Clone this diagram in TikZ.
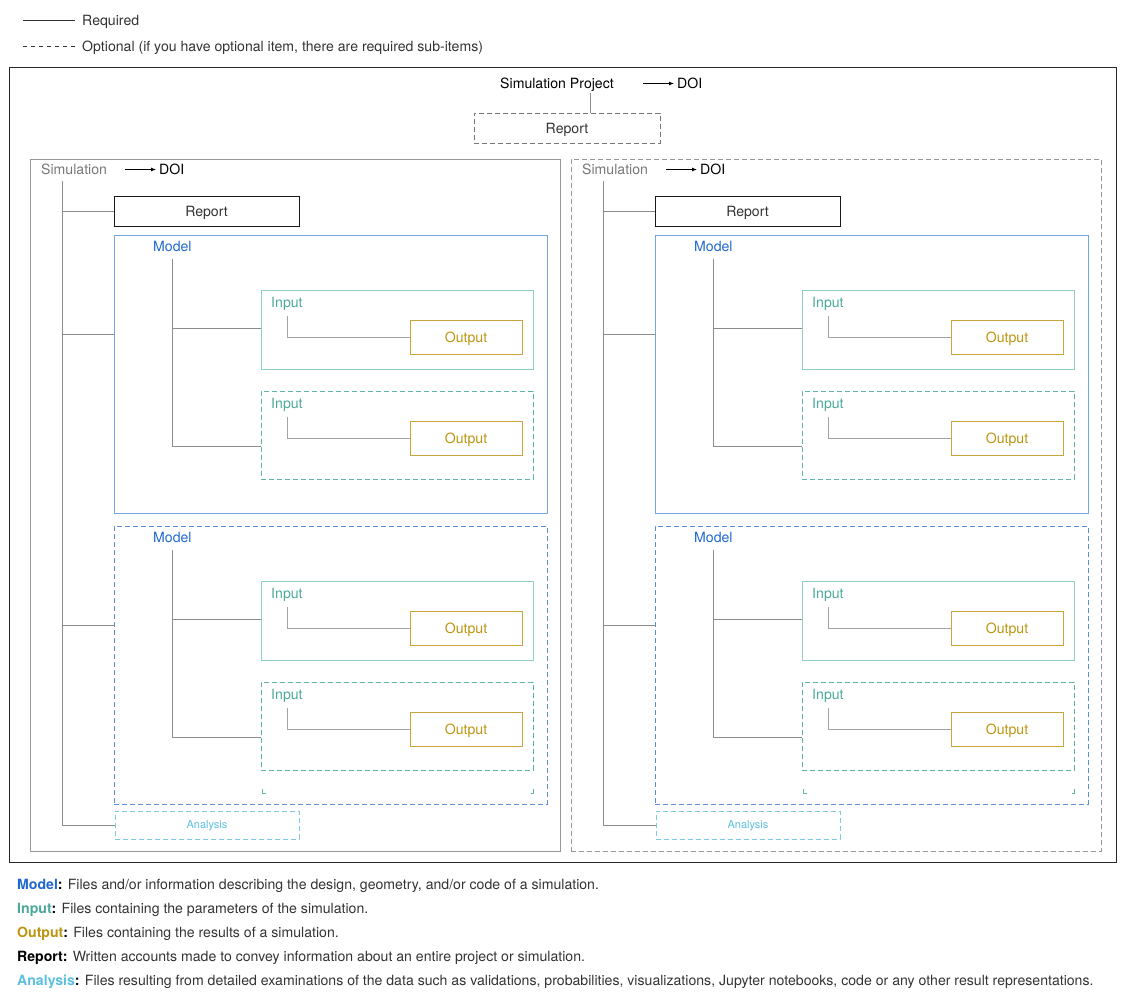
\documentclass[tikz,border=0pt]{standalone}
\usepackage{fontspec}
\setmainfont{TeX Gyre Heros}
\usetikzlibrary{arrows.meta, positioning}

\definecolor{modeltxt}{HTML}{1F68CF}
\definecolor{modelline}{HTML}{76A6E2}
\definecolor{modeldash}{HTML}{5C8ED8}
\definecolor{inputtxt}{HTML}{4BA99B}
\definecolor{inputline}{HTML}{8FD0C5}
\definecolor{inputdash}{HTML}{5DB6A7}
\definecolor{outputtxt}{HTML}{BB9510}
\definecolor{outputline}{HTML}{C9A53B}
\definecolor{analysistxt}{HTML}{5BBFE0}
\definecolor{analysisline}{HTML}{7CCBE3}
\definecolor{treegray}{HTML}{8C8C8C}
\definecolor{simgray}{HTML}{777777}
\definecolor{bodytxt}{HTML}{333333}

\newcommand{\legendterm}[2]{\textbf{\textcolor{#1}{#2}\textcolor{black}{:}}}

\begin{document}
\begin{tikzpicture}
	[x=1bp, y=-1bp,
	txt/.style={font=\fontsize{14.1bp}{16bp}\selectfont, inner sep=0pt, text=bodytxt},
	frame/.style={draw, anchor=north west, inner sep=0pt},
	boxtxt/.style={font=\fontsize{14.1bp}{16bp}\selectfont, text=bodytxt, text height=10bp, text depth=0pt},
	optional/.style={dash pattern=on 5bp off 3bp},
	tree/.style={draw=treegray, line width=0.9bp},
	doiarrow/.style={-{Latex[length=5bp,width=4bp]}, line width=0.9bp, shorten >=3bp}]
   \useasboundingbox (0,0) rectangle (1126,1005);
   % legend
   \draw[line width=0.9bp, bodytxt] (23,20.5) -- (75,20.5);
   \draw[line width=0.9bp, bodytxt, dash pattern=on 4bp off 4bp] (23,46.5) -- (75,46.5);
   \node[txt, anchor=base west] (req) at (82,25) {Required};
   \node[txt, anchor=base west] (opt) at (82,51) {Optional (if you have optional item, there are required sub-items)};
   % project
   \node[frame, line width=1.3bp, draw=black!85, minimum width=1107bp, minimum height=795bp] (project) at (9,67) {};
   \node[txt, text=black, anchor=base] (proj) at (557,88) {Simulation Project};
   \node[txt, text=black, anchor=base west] (doiP) at (677,88) {DOI};
   \coordinate (doitailP) at (643,83.5);
   \draw[doiarrow] (doitailP) -- (doitailP -| doiP.west);
   \node[frame, boxtxt, optional, draw=simgray, line width=1bp, minimum width=186bp, minimum height=30bp] (repP) at (473.5,112.5) {Report};
   \coordinate (stemP) at (590.5,93);
   \draw[tree] (stemP) -- (stemP |- repP.north);
   % simulations
   \foreach \s/\dx/\sline in {L/0/solid, R/541/optional}{
   \begin{scope}[xshift=\dx bp]
      \node[frame, \sline, draw=treegray!90, line width=1.1bp, minimum width=530bp, minimum height=692bp] (sim\s) at (29.5,158.5) {};
      \node[txt, text=simgray, anchor=base west] (simlbl\s) at (41,174) {Simulation};
      \node[txt, text=black, anchor=base west] (doi\s) at (159,174) {DOI};
      \coordinate (doitail\s) at (125,169.5);
      \draw[doiarrow] (doitail\s) -- (doitail\s -| doi\s.west);
      \node[frame, boxtxt, draw=black!90, line width=1.1bp, minimum width=185bp, minimum height=30bp] (rep\s) at (113.5,195.5) {Report};
      \node[frame, optional, draw=analysisline, line width=0.9bp, minimum width=184bp, minimum height=28bp,
            font=\fontsize{11bp}{13bp}\selectfont, text=analysistxt, text height=8bp, text depth=0pt] (ana\s) at (114.5,810.5) {Analysis};
      \coordinate (trunk\s) at (62.5,181);
      \draw[tree] (trunk\s) |- (ana\s.west);
      \draw[tree] (trunk\s |- rep\s.west) -- (rep\s.west);
      % models
      \foreach \m/\mtop/\mline/\mcol in {1/234.5/solid/modelline, 2/525.5/optional/modeldash}{
         \node[frame, \mline, draw=\mcol, line width=1.2bp, minimum width=433bp, minimum height=278bp] (model\s\m) at (113.5,\mtop) {};
         \node[txt, text=modeltxt, anchor=base west] (mlbl\s\m) at (153,\mtop+17) {Model};
         \coordinate (mjoin\s\m) at (113.5,\mtop+100);
         \draw[tree] (trunk\s |- mjoin\s\m) -- (mjoin\s\m);
         \coordinate (mtrunk\s\m) at (172.5,\mtop+24);
         % inputs
         \foreach \i/\itop/\iline/\icol/\ih/\ij in {a/55/solid/inputline/79/39, b/156/optional/inputdash/88/56}{
            \node[frame, \iline, draw=\icol, line width=1.1bp, minimum width=272bp, minimum height=\ih bp] (in\s\m\i) at (260.5,\mtop+\itop) {};
            \node[txt, text=inputtxt, anchor=base west] (ilbl\s\m\i) at (271,\mtop+\itop+18) {Input};
            \coordinate (ijoin\s\m\i) at (260.5,\mtop+\itop+\ij);
            \draw[tree] (mtrunk\s\m |- ijoin\s\m\i) -- (ijoin\s\m\i);
            \node[frame, boxtxt, text=outputtxt, draw=outputline, line width=1.1bp, minimum width=112bp, minimum height=34bp] (out\s\m\i) at (409.5,\mtop+\itop+30) {Output};
            \coordinate (itrunk\s\m\i) at (287.5,\mtop+\itop+26);
            \draw[tree, draw=treegray!80, line width=1.1bp] (itrunk\s\m\i) |- (out\s\m\i.west);
         }
         \draw[tree] (mtrunk\s\m) -- (mtrunk\s\m |- ijoin\s\m b);
      }
      \draw[inputdash, line width=0.8bp] (262.5,789) -- (262.5,793.5) -- (265.5,793.5) (533.5,789) -- (533.5,793.5) -- (530.5,793.5);
   \end{scope}
   }
   % descriptions
   \node[txt, anchor=base west] (dmodel) at (17,889) {\legendterm{modeltxt}{Model} Files and/or information describing the design, geometry, and/or code of a simulation.};
   \node[txt, anchor=base west] (dinput) at (17,913) {\legendterm{inputtxt}{Input} Files containing the parameters of the simulation.};
   \node[txt, anchor=base west] (doutput) at (17,937) {\legendterm{outputtxt}{Output} Files containing the results of a simulation.};
   \node[txt, anchor=base west] (dreport) at (17,961) {\legendterm{black}{Report} Written accounts made to convey information about an entire project or simulation.};
   \node[txt, anchor=base west] (danalysis) at (17,985) {\legendterm{analysistxt}{Analysis} Files resulting from detailed examinations of the data such as validations, probabilities, visualizations, Jupyter notebooks, code or any other result representations.};
\end{tikzpicture}
\end{document}
